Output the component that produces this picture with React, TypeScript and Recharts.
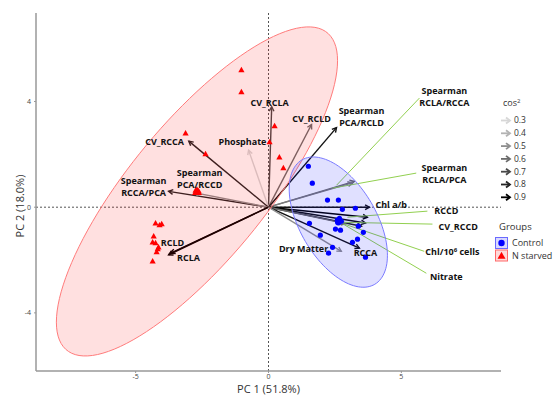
import { ScatterChart, Scatter, XAxis, YAxis, ReferenceLine } from 'recharts'

// individuals (PC1 / PC2 scores)
const controlPC1 = [1.5, 1.65, 2.22, 2.63, 2.78, 3.27, 1.54, 1.95, 2.52, 2.71, 2.59, 2.74, 3.38, 3.57, 3.35, 3.16, 2.41, 2.26, 3.65, 2.67]
const controlPC2 = [1.55, 0.91, 0.27, 0.27, -0.08, -0.04, -0.61, -1.06, -0.83, -0.87, -0.49, -0.53, -0.72, -0.95, -1.21, -1.33, -1.52, -1.74, -1.89, -0.42]
const starvedPC1 = [-1.02, -1.02, -3.12, -2.37, 0.04, 0.23, 0.41, 0.56, -4.25, -4.1, -4.02, -4.32, -4.36, -4.25, -4.14, -4.17, -4.21, -4.36, -2.74, -2.63]
const starvedPC2 = [5.19, 4.36, 2.8, 2.01, 2.46, 3.07, 1.89, 1.48, -0.61, -0.68, -0.64, -1.1, -1.33, -1.36, -1.52, -1.59, -1.7, -2.05, 0.64, 0.61]

// variables (arrows)
const varNames = ['CV_RCLA', 'CV_RCLD', 'Spearman\nPCA/RCLD', 'Phosphate', 'CV_RCCA', 'Spearman\nRCCA/PCA', 'Spearman\nPCA/RCCD', 'RCLD', 'RCLA', 'Spearman\nRCLA/RCCA', 'Spearman\nRCLA/PCA', 'Chl a/b', 'RCCD', 'CV_RCCD', 'Chl/10^6 cells', 'Nitrate', 'RCCA', 'Dry Matter']
const varPC1 = [0.12, 1.62, 2.56, -0.75, -3.0, -3.76, -2.8, -3.68, -3.76, 3.23, 3.15, 3.8, 3.72, 3.65, 3.5, 2.9, 3.42, 2.74]
const varPC2 = [3.8, 3.13, 3.01, 2.16, 2.5, 0.6, 0.55, -1.74, -1.8, 0.98, 0.92, 0.0, -0.38, -0.6, -0.72, -0.62, -1.55, -1.67]
const varCos2 = [0.7, 0.6, 0.85, 0.3, 0.8, 0.8, 0.5, 0.9, 0.9, 0.6, 0.55, 0.85, 0.9, 0.85, 0.8, 0.6, 0.85, 0.5]

// label anchors (data units), leader lines for repelled labels
const labelPC1 = [0.04, 1.62, 3.5, -0.98, -3.91, -4.7, -2.59, -3.61, -3.01, 6.62, 6.62, 4.62, 6.69, 7.14, 6.92, 6.69, 3.65, 1.32]
const labelPC2 = [3.94, 3.33, 3.41, 2.46, 2.46, 0.76, 1.08, -1.36, -1.93, 4.19, 1.27, 0.08, -0.15, -0.76, -1.7, -2.65, -1.74, -1.59]
const leaderFrom = [[2.56, 0.83], [2.41, 0.72], [2.97, -0.38], [2.67, -0.57], [2.86, -0.64], [2.56, -0.49]]
const leaderTo = [[5.68, 4.13], [5.56, 1.29], [5.98, -0.15], [6.17, -0.64], [5.86, -1.67], [5.94, -2.5]]

const cos2Levels = [0.3, 0.4, 0.5, 0.6, 0.7, 0.8, 0.9]
const xTicks = [-5, 0, 5]
const yTicks = [-4, 0, 4]

const FONT = "'Open Sans', 'DejaVu Sans', sans-serif"
const GREEN = '#92d050'

function cos2Color(c: number) {
  const g = Math.max(0, Math.min(215, Math.round((215 * (0.9 - c)) / 0.6)))
  return `rgb(${g},${g},${g})`
}

function zip(xs: number[], ys: number[]) {
  return xs.map((x, i) => ({ x, y: ys[i] }))
}

function mean(v: number[]) {
  return v.reduce((s, a) => s + a, 0) / v.length
}

// normal-theory ellipse from group covariance
function ellipse(xs: number[], ys: number[], k: number) {
  const mx = mean(xs)
  const my = mean(ys)
  let sxx = 0, syy = 0, sxy = 0
  xs.forEach((x, i) => {
    sxx += (x - mx) ** 2
    syy += (ys[i] - my) ** 2
    sxy += (x - mx) * (ys[i] - my)
  })
  const n = xs.length - 1
  sxx /= n; syy /= n; sxy /= n
  const l11 = Math.sqrt(sxx)
  const l21 = sxy / l11
  const l22 = Math.sqrt(syy - l21 * l21)
  const pts = []
  for (let i = 0; i <= 120; i++) {
    const t = (2 * Math.PI * i) / 120
    const u = Math.cos(t), v = Math.sin(t)
    pts.push({ x: mx + k * l11 * u, y: my + k * (l21 * u + l22 * v) })
  }
  return pts
}

const controlData = zip(controlPC1, controlPC2)
const starvedData = zip(starvedPC1, starvedPC2)
const controlMean = [{ x: mean(controlPC1), y: mean(controlPC2) }]
const starvedMean = [{ x: mean(starvedPC1), y: mean(starvedPC2) }]
const controlEllipse = ellipse(controlPC1, controlPC2, 2.85)
const starvedEllipse = ellipse(starvedPC1, starvedPC2, 2.85)
const labelData = varNames.map((name, i) => ({ x: labelPC1[i], y: labelPC2[i], name }))

const polyPath = (points: { x: number; y: number }[]) =>
  points.map((p, i) => `${i ? 'L' : 'M'}${p.x},${p.y}`).join(' ') + ' Z'

function arrowShape(color: string, w: number) {
  return (p: any) => {
    const { x1, y1, x2, y2 } = p
    const ang = Math.atan2(y2 - y1, x2 - x1)
    const len = 5
    const a1 = ang + Math.PI - 0.5
    const a2 = ang + Math.PI + 0.5
    return (
      <g>
        <line x1={x1} y1={y1} x2={x2} y2={y2} stroke={color} strokeWidth={w} />
        <polyline
          points={`${x2 + len * Math.cos(a1)},${y2 + len * Math.sin(a1)} ${x2},${y2} ${x2 + len * Math.cos(a2)},${y2 + len * Math.sin(a2)}`}
          fill="none"
          stroke={color}
          strokeWidth={w}
        />
      </g>
    )
  }
}

const triangle = (cx: number, cy: number, r: number) =>
  `${cx},${cy - r * 1.05} ${cx - r},${cy + r * 0.7} ${cx + r},${cy + r * 0.7}`

function VarLabel(p: any) {
  const name: string = p.payload.name
  const common = { fontFamily: FONT, fontSize: 9, fontWeight: 700, fill: '#111', textAnchor: 'middle' as const }
  if (name.includes('\n')) {
    const [a, b] = name.split('\n')
    return (
      <g>
        <text x={p.cx} y={p.cy - 6} dy="0.35em" {...common}>{a}</text>
        <text x={p.cx} y={p.cy + 6} dy="0.35em" {...common}>{b}</text>
      </g>
    )
  }
  if (name === 'Chl/10^6 cells') {
    return (
      <text x={p.cx} y={p.cy} dy="0.35em" {...common}>
        Chl/10<tspan fontSize={6} dy="-3">6</tspan><tspan dy="3">{'  cells'}</tspan>
      </text>
    )
  }
  return <text x={p.cx} y={p.cy} dy="0.35em" {...common}>{name}</text>
}

function LegendBox() {
  return (
    <svg width={62} height={175} style={{ position: 'absolute', left: 494, top: 92, overflow: 'visible' }}>
      <text x={9} y={14} fontFamily={FONT} fontSize={9} fill="#333">
        cos<tspan fontSize={6} dy="-3">2</tspan>
      </text>
      {cos2Levels.map((c, i) => {
        const y = 28.5 + i * 12.8
        const col = cos2Color(c)
        return (
          <g key={c}>
            <line x1={7} y1={y} x2={16} y2={y} stroke={col} strokeWidth={1.8} />
            <polyline points={`${12},${y - 3} ${16},${y} ${12},${y + 3}`} fill="none" stroke={col} strokeWidth={1.8} />
            <text x={20} y={y} dy="0.35em" fontFamily={FONT} fontSize={8.5} fill="#333">{c}</text>
          </g>
        )
      })}
      <text x={5} y={135} dy="0.35em" fontFamily={FONT} fontSize={9.5} fill="#333">Groups</text>
      <rect x={1.5} y={145.5} width={12} height={11} fill="rgba(0,0,255,0.15)" stroke="#6a6aff" />
      <circle cx={7.5} cy={151} r={3.2} fill="#0000ff" />
      <text x={18} y={150.5} dy="0.35em" fontFamily={FONT} fontSize={9} fill="#333">Control</text>
      <rect x={1.5} y={158} width={12} height={11} fill="rgba(255,0,0,0.15)" stroke="#ff6a6a" />
      <polygon points={triangle(7.5, 164, 4)} fill="#ff0000" />
      <text x={18} y={163.5} dy="0.35em" fontFamily={FONT} fontSize={9} fill="#333">N starved</text>
    </svg>
  )
}

export default function App() {
  return (
    <div style={{ position: 'absolute', left: 0, top: 0, width: 556, height: 395, background: '#fff' }}>
      <ScatterChart width={556} height={395} margin={{ top: 13, right: 55, bottom: 0, left: 10 }}>
        <XAxis
          type="number"
          dataKey="x"
          domain={[-8.75, 8.75]}
          allowDataOverflow
          ticks={xTicks}
          height={24}
          tickSize={2}
          tickMargin={1}
          tick={{ fontSize: 7, fill: '#444', fontFamily: FONT }}
          axisLine={{ stroke: '#999', strokeWidth: 1.5 }}
          tickLine={{ stroke: '#999' }}
          label={{ value: 'PC 1 (51.8%)', position: 'insideBottom', offset: 2, fontSize: 11, fill: '#333', fontFamily: FONT }}
        />
        <YAxis
          type="number"
          dataKey="y"
          domain={[-6.2, 7.35]}
          allowDataOverflow
          ticks={yTicks}
          width={26}
          tickSize={2}
          tickMargin={3}
          tick={{ fontSize: 7, fill: '#444', fontFamily: FONT }}
          axisLine={{ stroke: '#999', strokeWidth: 1.5 }}
          tickLine={{ stroke: '#999' }}
          label={{
            content: () => (
              <text x={19} y={206} transform="rotate(-90 19 206)" textAnchor="middle" dominantBaseline="central" fontSize={11} fill="#333" fontFamily={FONT}>
                PC 2 (18.0%)
              </text>
            ),
          }}
        />
        <Scatter
          data={starvedEllipse}
          isAnimationActive={false}
          shape={() => <g />}
          lineType="joint"
          line={(p: any) => <path d={polyPath(p.points)} fill="rgba(255,0,0,0.12)" stroke="#ff7b7b" strokeWidth={1} />}
        />
        <Scatter
          data={controlEllipse}
          isAnimationActive={false}
          shape={() => <g />}
          lineType="joint"
          line={(p: any) => <path d={polyPath(p.points)} fill="rgba(0,0,255,0.12)" stroke="#7b7bff" strokeWidth={1} />}
        />
        <ReferenceLine x={0} stroke="#555" strokeDasharray="2 2" />
        <ReferenceLine y={0} stroke="#555" strokeDasharray="2 2" />
        <Scatter
          data={starvedData}
          isAnimationActive={false}
          shape={(p: any) => <polygon points={triangle(p.cx, p.cy, 3.1)} fill="#ff0000" />}
        />
        <Scatter
          data={controlData}
          isAnimationActive={false}
          shape={(p: any) => <circle cx={p.cx} cy={p.cy} r={2.6} fill="#0000ff" />}
        />
        {varNames.map((name, i) => (
          <ReferenceLine
            key={name}
            segment={[{ x: 0, y: 0 }, { x: varPC1[i], y: varPC2[i] }]}
            shape={arrowShape(cos2Color(varCos2[i]), 1.4)}
          />
        ))}
        {leaderFrom.map((f, i) => (
          <ReferenceLine
            key={'lead' + i}
            segment={[{ x: f[0], y: f[1] }, { x: leaderTo[i][0], y: leaderTo[i][1] }]}
            stroke={GREEN}
            strokeWidth={1}
          />
        ))}
        <Scatter
          data={starvedMean}
          isAnimationActive={false}
          shape={(p: any) => <polygon points={triangle(p.cx, p.cy, 5)} fill="#ff0000" />}
        />
        <Scatter
          data={controlMean}
          isAnimationActive={false}
          shape={(p: any) => <circle cx={p.cx} cy={p.cy} r={3.4} fill="#0000ff" />}
        />
        <Scatter data={labelData} isAnimationActive={false} shape={VarLabel} />
      </ScatterChart>
      <LegendBox />
    </div>
  )
}
